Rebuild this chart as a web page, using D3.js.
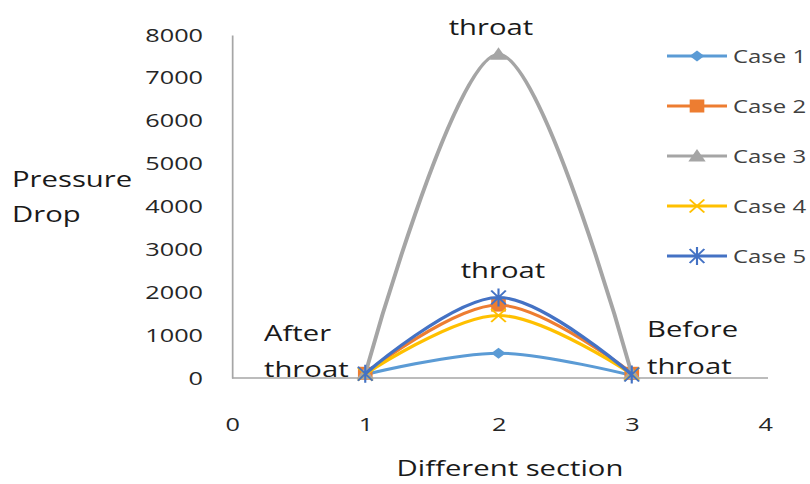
<!DOCTYPE html>
<html>
<head>
<meta charset="utf-8">
<script src="https://cdn.jsdelivr.net/npm/d3@7"></script>
<style>
  html, body { margin: 0; padding: 0; background: #fff; }
  svg { display: block; font-family: 'Open Sans', sans-serif; }
</style>
</head>
<body>
<div id="chart"></div>
<script>
// values
const sections = [1, 2, 3];
const case1 = [80, 580, 60];
const case2 = [110, 1700, 110];
const case3 = [100, 7550, 100];
const case4 = [90, 1460, 90];
const case5 = [100, 1880, 80];
const seriesNames = ['Case 1', 'Case 2', 'Case 3', 'Case 4', 'Case 5'];
const seriesValues = [case1, case2, case3, case4, case5];
const xTicks = [0, 1, 2, 3, 4];
const yTicks = [0, 1000, 2000, 3000, 4000, 5000, 6000, 7000, 8000];

const colors = ['#5b9bd5', '#ed7d31', '#a5a5a5', '#ffc000', '#4472c4'];
const markers = ['diamond', 'square', 'triangle', 'cross', 'star'];

const width = 810;
const height = 484;
// the original picture is stretched sideways, so draw in a narrower box and stretch it
const sx = 1.33;
const vx = (v) => v / sx;

const svg = d3
  .select('#chart')
  .append('svg')
  .attr('width', width)
  .attr('height', height)
  .attr('viewBox', `0 0 ${width / sx} ${height}`)
  .attr('preserveAspectRatio', 'none');

const x = d3.scaleLinear().domain([0, 4]).range([vx(232), vx(765)]);
const y = d3.scaleLinear().domain([0, 8000]).range([378, 35]);

// axes
const yAxis = svg
  .append('g')
  .attr('transform', `translate(${x(0)},0)`)
  .call(
    d3.axisLeft(y).tickValues(yTicks).tickFormat(d3.format('d')).tickSize(0).tickPadding(vx(29)),
  );

const xAxis = svg
  .append('g')
  .attr('transform', `translate(0,${y(0)})`)
  .call(
    d3.axisBottom(x).tickValues(xTicks).tickFormat(d3.format('d')).tickSize(0).tickPadding(40),
  );

xAxis.select('.domain').attr('d', `M${x(0)},0H${vx(768)}`);

[xAxis, yAxis].forEach((a) => {
  a.select('.domain').attr('stroke', '#a6a6a6').attr('stroke-width', 1.3);
  a.selectAll('text')
    .attr('font-family', "'Open Sans', sans-serif")
    .attr('font-size', 19)
    .attr('fill', '#262626');
});

// marker drawing
function drawMarker(g, type, color) {
  if (type === 'diamond') {
    g.append('path').attr('d', 'M0,-5.5L5.5,0L0,5.5L-5.5,0Z').attr('fill', color);
  } else if (type === 'square') {
    g.append('rect')
      .attr('x', -5.5)
      .attr('y', -6.5)
      .attr('width', 11)
      .attr('height', 13)
      .attr('fill', color);
  } else if (type === 'triangle') {
    g.append('path').attr('d', 'M0,-7L6.5,5.5L-6.5,5.5Z').attr('fill', color);
  } else if (type === 'cross') {
    g.append('path')
      .attr('d', 'M-5.5,-6.5L5.5,6.5M-5.5,6.5L5.5,-6.5')
      .attr('stroke', color)
      .attr('stroke-width', 1.6)
      .attr('fill', 'none');
  } else if (type === 'star') {
    g.append('path')
      .attr('d', 'M-5.5,-7L5.5,7M-5.5,7L5.5,-7M0,-9V9')
      .attr('stroke', color)
      .attr('stroke-width', 1.6)
      .attr('fill', 'none');
  }
}

// smooth lines like Excel
const line = d3
  .line()
  .x((d) => x(d[0]))
  .y((d) => y(d[1]))
  .curve(d3.curveCardinal.tension(0));

seriesValues.forEach((vals, i) => {
  const pts = sections.map((s, j) => [s, vals[j]]);
  const g = svg.append('g').attr('class', 'series');
  g.append('path')
    .datum(pts)
    .attr('d', line)
    .attr('fill', 'none')
    .attr('stroke', colors[i])
    .attr('stroke-width', 3);
  g.selectAll('.pt')
    .data(pts)
    .enter()
    .append('g')
    .attr('class', 'pt')
    .attr('transform', (d) => `translate(${x(d[0])},${y(d[1])})`)
    .each(function () {
      drawMarker(d3.select(this), markers[i], colors[i]);
    });
});

// legend
const legend = svg
  .selectAll('.legend')
  .data(seriesNames)
  .enter()
  .append('g')
  .attr('class', 'legend')
  .attr('transform', (d, i) => `translate(0,${56 + i * 50})`);

legend
  .append('line')
  .attr('x1', vx(667))
  .attr('x2', vx(727))
  .attr('stroke', (d, i) => colors[i])
  .attr('stroke-width', 3);

legend.each(function (d, i) {
  const m = d3.select(this).append('g').attr('transform', `translate(${vx(697)},0)`);
  drawMarker(m, markers[i], colors[i]);
});

legend
  .append('text')
  .attr('x', vx(733))
  .attr('y', 6.5)
  .attr('font-size', 18)
  .attr('fill', '#404040')
  .text((d) => d);

// text labels
const labels = [
  { text: 'throat', x: 491, y: 35, anchor: 'middle' },
  { text: 'throat', x: 503, y: 278, anchor: 'middle' },
  { text: 'After', x: 264, y: 341, anchor: 'start' },
  { text: 'throat', x: 264, y: 377, anchor: 'start' },
  { text: 'Before', x: 647, y: 337, anchor: 'start' },
  { text: 'throat', x: 647, y: 374, anchor: 'start' },
  { text: 'Pressure', x: 12, y: 187, anchor: 'start' },
  { text: 'Drop', x: 12, y: 222, anchor: 'start' },
  { text: 'Different section', x: 510, y: 476, anchor: 'middle' },
];

svg
  .selectAll('.label')
  .data(labels)
  .enter()
  .append('text')
  .attr('class', 'label')
  .attr('x', (d) => vx(d.x))
  .attr('y', (d) => d.y)
  .attr('text-anchor', (d) => d.anchor)
  .attr('font-size', 22)
  .attr('fill', '#1a1a1a')
  .text((d) => d.text);
</script>
</body>
</html>
